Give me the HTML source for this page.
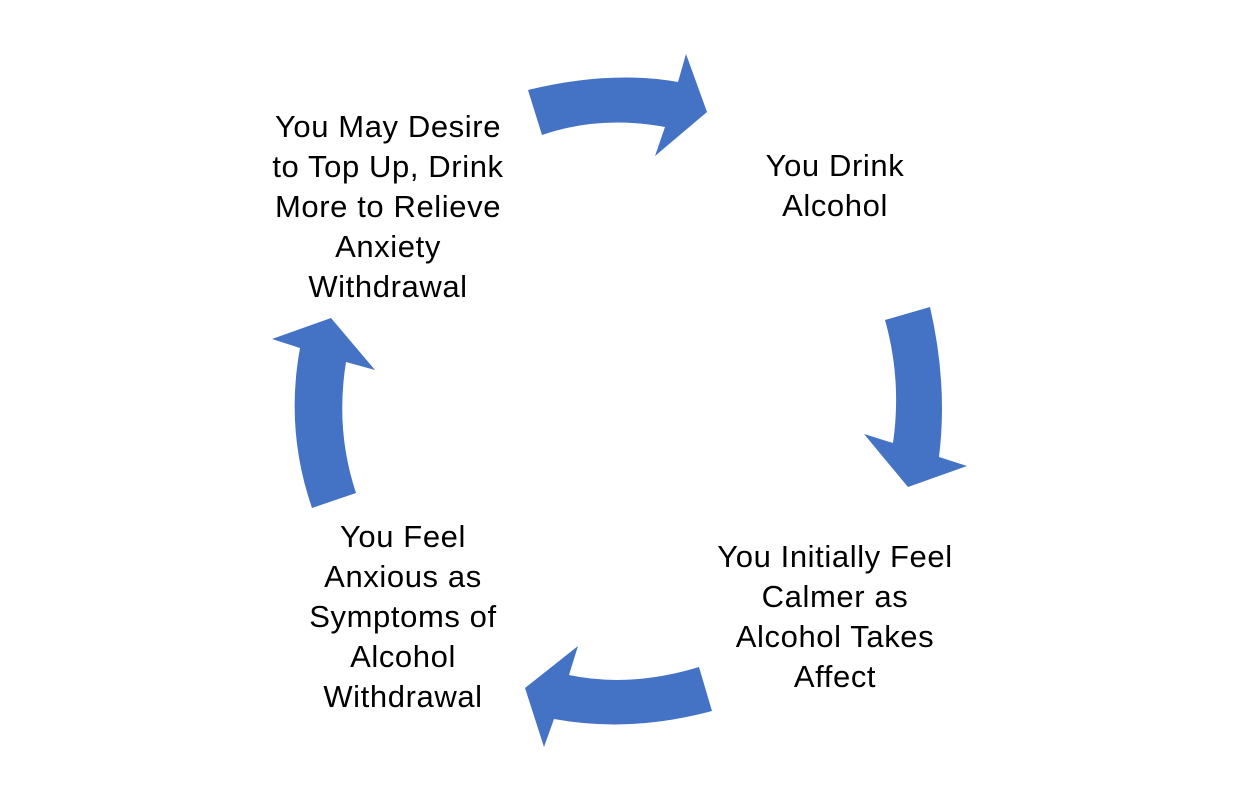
<!DOCTYPE html>
<html><head><style>
body{margin:0;width:1248px;height:803px;background:#fff;position:relative;overflow:hidden;font-family:"Liberation Sans",sans-serif;}
svg{position:absolute;left:0;top:0}
.t{position:absolute;text-align:center;font-size:31px;letter-spacing:0.6px;line-height:40px;color:#000;width:400px;}
</style></head><body>
<svg width="1248" height="803">
<g fill="#4472c4">
<path d="M528,90 Q610,70 678,82 L686,54 L707,112 L655,156 L665,127 Q600,115 542,135 Z"/>
<path d="M885,320 L930,307 Q948,385 939,457 L967,466 L908,487 L864,434 L893,443 Q902,380 885,320 Z"/>
<path d="M699,667 Q630,688 569,675 L578,646 L525,688 L544,747 L554,719 Q630,733 712,711 Z"/>
<path d="M312,508 L356,493 Q335,430 346,362 L375,370 L331,318 L272,339 L300,348 Q285,430 312,508 Z"/>
</g>
</svg>
<div class="t" style="left:188px;top:107px">You May Desire<br>to Top Up, Drink<br>More to Relieve<br>Anxiety<br>Withdrawal</div>
<div class="t" style="left:635px;top:146px">You Drink<br>Alcohol</div>
<div class="t" style="left:635px;top:537px">You Initially Feel<br>Calmer as<br>Alcohol Takes<br>Affect</div>
<div class="t" style="left:203px;top:517px">You Feel<br>Anxious as<br>Symptoms of<br>Alcohol<br>Withdrawal</div>
</body></html>
